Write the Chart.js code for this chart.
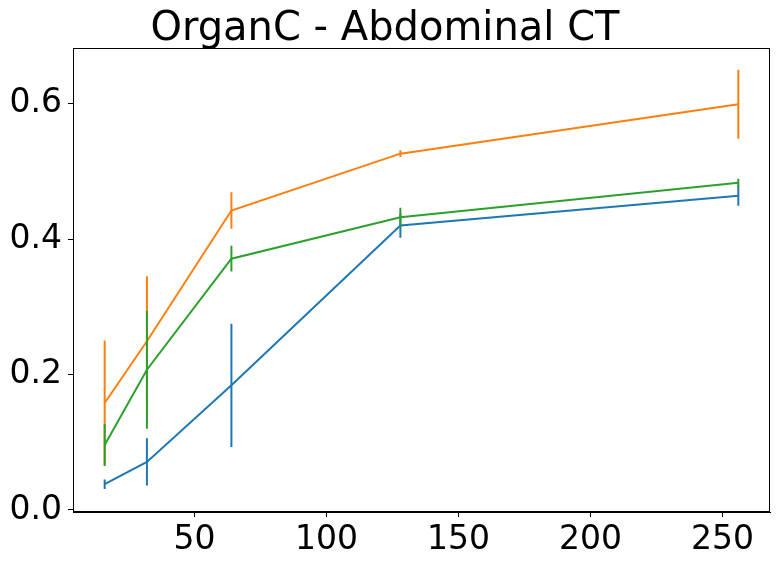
<!DOCTYPE html>
<html>
<head>
<meta charset="utf-8">
<script src="https://cdn.jsdelivr.net/npm/chart.js@4.4.1/dist/chart.umd.min.js"></script>
<style>
  html, body { margin: 0; padding: 0; background: #fff; }
  #wrap { width: 780px; height: 564px; }
</style>
</head>
<body>
<div id="wrap"><canvas id="organChart"></canvas></div>
<script>
const sizes = [16, 32, 64, 128, 256];

const blueMean = [0.038, 0.071, 0.184, 0.420, 0.464];
const blueErr = [0.007, 0.035, 0.091, 0.018, 0.015];

const orangeMean = [0.158, 0.249, 0.442, 0.526, 0.599];
const orangeErr = [0.092, 0.096, 0.027, 0.005, 0.051];

const greenMean = [0.096, 0.207, 0.371, 0.432, 0.483];
const greenErr = [0.031, 0.087, 0.019, 0.014, 0.006];

const xTicks = [50, 100, 150, 200, 250];
const yTicks = [0.0, 0.2, 0.4, 0.6];

function linePoints(means) {
    return sizes.map((x, i) => ({ x: x, y: means[i] }));
}

// vertical error segments, separated by gaps
function errorPoints(means, errs) {
    let pts = [];
    sizes.forEach((x, i) => {
        pts.push({ x: x, y: means[i] - errs[i] });
        pts.push({ x: x, y: means[i] + errs[i] });
        pts.push({ x: x, y: null });
    });
    return pts;
}

function series(color, means, errs, order) {
    return [
        { data: linePoints(means), borderColor: color, order: order },
        { data: errorPoints(means, errs), borderColor: color, order: order, spanGaps: false }
    ];
}

const frame = {
    id: 'frame',
    afterDraw(chart) {
        const a = chart.chartArea;
        const ctx = chart.ctx;
        ctx.save();
        ctx.strokeStyle = '#000';
        ctx.lineWidth = 1;
        ctx.strokeRect(a.left + 0.5, a.top + 0.5, a.right - a.left - 1, a.bottom - a.top - 1);
        ctx.restore();
    }
};

const tickFont = { family: 'DejaVu Sans', size: 33 };

new Chart(document.getElementById('organChart'), {
    type: 'scatter',
    data: {
        datasets: [
            ...series('#1f77b4', blueMean, blueErr, 3),
            ...series('#ff7f0e', orangeMean, orangeErr, 2),
            ...series('#2ca02c', greenMean, greenErr, 1)
        ]
    },
    options: {
        responsive: true,
        maintainAspectRatio: false,
        animation: false,
        showLine: true,
        elements: {
            line: { borderWidth: 2, tension: 0 },
            point: { radius: 0, hoverRadius: 0 }
        },
        layout: { padding: { left: 0, right: 10, top: 0, bottom: 0 } },
        plugins: {
            legend: { display: false },
            tooltip: { enabled: false },
            title: {
                display: true,
                text: 'OrganC - Abdominal CT',
                color: '#000',
                font: { family: 'DejaVu Sans', size: 40, weight: 'normal', lineHeight: 0.9 },
                padding: { top: 12, bottom: 0 }
            }
        },
        scales: {
            x: {
                type: 'linear',
                min: 4,
                max: 268,
                afterBuildTicks: (scale) => { scale.ticks = xTicks.map(v => ({ value: v })); },
                afterFit: (scale) => { scale.height = 52; },
                ticks: { color: '#000', font: tickFont, padding: 4 },
                grid: { drawOnChartArea: false, drawTicks: true, tickLength: 5, color: '#000' },
                border: { color: '#000' }
            },
            y: {
                min: -0.003,
                max: 0.682,
                afterBuildTicks: (scale) => { scale.ticks = yTicks.map(v => ({ value: v })); },
                afterFit: (scale) => { scale.width = 73; },
                ticks: {
                    color: '#000',
                    font: tickFont,
                    padding: 6,
                    callback: (v) => v.toFixed(1)
                },
                grid: { drawOnChartArea: false, drawTicks: true, tickLength: 5, color: '#000' },
                border: { color: '#000' }
            }
        }
    },
    plugins: [frame]
});
</script>
</body>
</html>
